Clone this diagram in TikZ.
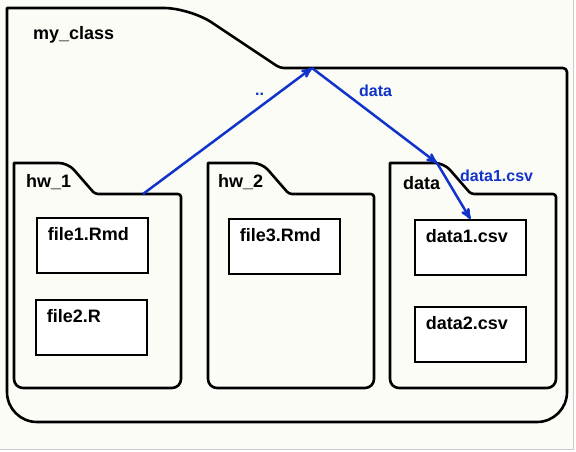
\documentclass[tikz,border=0pt]{standalone}
\usepackage{fontspec}
\setmainfont{Liberation Sans}
\usepackage{tikz}
\usetikzlibrary{arrows, calc}
\definecolor{paper}{RGB}{252,252,246}
\definecolor{link}{RGB}{17,51,204}
\tikzset{folder/.style={draw, line width=2.6pt, line join=round},
  filebox/.style={draw, fill=white, line width=1.8pt, anchor=north west,
    inner xsep=11pt, inner ysep=0pt, text width=89pt, align=left,
    text height=23pt, text depth=32pt,
    font=\fontsize{18}{20}\selectfont\bfseries},
  dirname/.style={anchor=base west, inner sep=0pt,
    font=\fontsize{18}{20}\selectfont\bfseries},
  cdlink/.style={->, >=stealth', draw=link, line width=2.5pt},
  linklabel/.style={anchor=base west, inner sep=0pt, text=link,
    font=\fontsize{16}{18}\selectfont\bfseries}}

\begin{document}
\begin{tikzpicture}[x=1pt, y=-1pt]
  \useasboundingbox (0,0) rectangle (576,451);
  \fill[white] (0,0) rectangle (576,451);
  \fill[paper] (0,0) rectangle (573,449);
  \draw[black!20, line width=1pt] (573,0) -- (573,449) -- (0,449);
  % the class folder
  \draw[folder] (7,250) -- (7,8) [rounded corners=26pt] -- (190,8)
    [rounded corners=4pt] -- (280,68) -- (567,68) [rounded corners=30pt]
    -- (567,422) -- (7,422) -- cycle;
  \node[dirname] (cls) at (33,39) {my\_class};
  % sub folders
  \foreach \l/\r in {14/181, 208/374, 390/556}
    \draw[folder] (\l,300) -- (\l,163) [rounded corners=9pt] -- ({\l+54},163)
      [rounded corners=3pt] -- ({\l+81},194) -- (\r,194)
      [rounded corners=9pt] -- (\r,388) -- (\l,388) -- cycle;
  \node[dirname] (hw1) at (26,187) {hw\_1};
  \node[dirname] (hw2) at (218,187) {hw\_2};
  \node[dirname] (dat) at (403,189) {data};
  % files
  \node[filebox] (f1) at (36,217) {file1.Rmd};
  \node[filebox] (f2) at (35,299) {file2.R};
  \node[filebox] (f3) at (228,218) {file3.Rmd};
  \node[filebox] (d1) at (414,219) {data1.csv};
  \node[filebox] (d2) at (414,306) {data2.csv};
  % relative paths
  \coordinate (up) at (143,194);
  \coordinate (top) at (312,68);
  \coordinate (tab) at (437,163);
  \draw[cdlink] (up) -- (top);
  \draw[cdlink] (top) -- (tab);
  \draw[cdlink] (tab) -- (d1.north);
  \node[linklabel] (ldots) at (255,95) {..};
  \node[linklabel] (ldata) at (359,96) {data};
  \node[linklabel] (lcsv) at (460,181) {data1.csv};
\end{tikzpicture}
\end{document}
